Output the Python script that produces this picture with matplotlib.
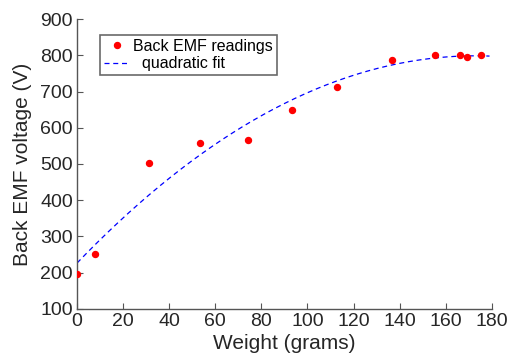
import numpy as np
import matplotlib.pyplot as plt

plt.rcParams['font.family'] = ['Liberation Sans', 'DejaVu Sans']

weight = [0, 7.8, 31.1, 53.4, 74.0, 93.4, 112.8, 136.5, 155.3, 166.1, 169.3, 175.2]
emf = [196, 252, 504, 557, 565, 649, 713, 787, 800, 800, 796, 801]

# quadratic fit of the readings
coef = np.polyfit(weight, emf, 2)
xf = np.linspace(0, 179, 200)
yf = np.polyval(coef, xf)

fig = plt.figure(figsize=(5.15, 3.6), dpi=100)
ax = fig.add_axes([0.1495, 0.1417, 0.8055, 0.8055])
ax.plot(weight, emf, 'o', color='red', markersize=4.3, label='Back EMF readings', zorder=3)
ax.plot(xf, yf, '--', color='blue', linewidth=0.9, dashes=(4, 3), label='  quadratic fit')

ax.set_xlim(0, 180)
ax.set_ylim(100, 900)
ax.set_xticks(range(0, 181, 20))
ax.set_yticks(range(100, 901, 100))
for s in ['top', 'right']:
    ax.spines[s].set_visible(False)
for s in ['left', 'bottom']:
    ax.spines[s].set_color('#555555')
    ax.spines[s].set_linewidth(1.0)
ax.tick_params(direction='in', length=4, color='#555555', labelsize=14, labelcolor='#262626', pad=3)
ax.set_xlabel('Weight (grams)', fontsize=15, color='#262626', labelpad=3)
ax.set_ylabel('Back EMF voltage (V)', fontsize=15, color='#262626', labelpad=6)

leg = ax.legend(loc='upper left', bbox_to_anchor=(0.055, 0.945), fontsize=11.5, frameon=True,
                fancybox=False, edgecolor='#444444', borderpad=0.25, borderaxespad=0,
                handlelength=1.6, handletextpad=0.25, labelspacing=0.15)
leg.get_frame().set_linewidth(1.2)

fig.savefig('out.png', dpi=100)
